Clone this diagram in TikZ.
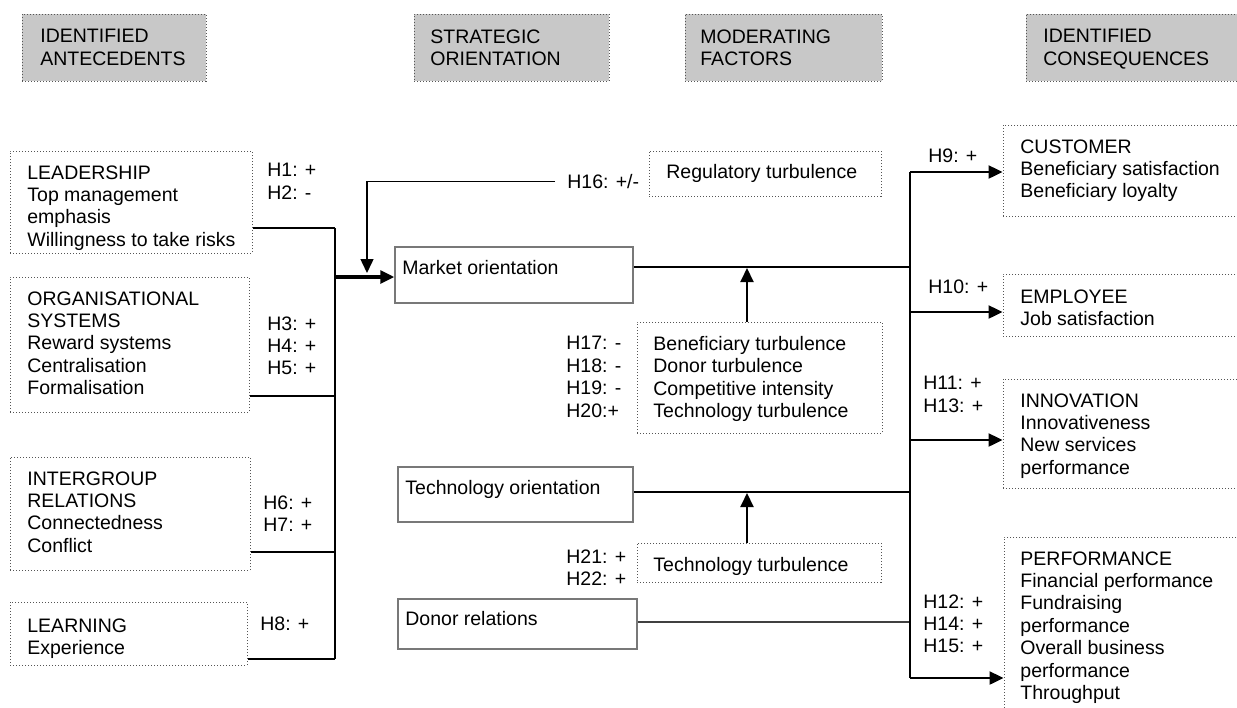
\documentclass[tikz,border=0pt]{standalone}
\usepackage{fontspec}
\setmainfont{Liberation Sans}
\usetikzlibrary{positioning,fit,arrows.meta}
\definecolor{hdgray}{RGB}{200,200,200}
\definecolor{dotgray}{RGB}{85,85,85}
\definecolor{boxgray}{RGB}{120,120,120}

\begin{document}
\begin{tikzpicture}[x=0.5pt, y=-0.5pt,
	every node/.style={font=\fontsize{9.75}{11.2}\selectfont},
	txt/.style={anchor=north west, inner sep=0pt, align=left},
	dotbox/.style={draw=dotgray, densely dotted, line width=0.5pt, inner sep=0pt},
	hdbox/.style={dotbox, fill=hdgray},
	solidbox/.style={draw=boxgray, line width=0.75pt, inner sep=0pt},
	link/.style={line width=1.2pt},
	thinlink/.style={line width=0.75pt},
	arr/.style={-{Triangle[length=7pt, width=6.5pt]}}]
	\useasboundingbox (0,0) rectangle (1237,707);

	% column headers
	\node[hdbox, fit={(22,14) (206,81)}](hdAnte) {};
	\node[hdbox, fit={(414,14) (609,81)}](hdStrat) {};
	\node[hdbox, fit={(685,14) (882,81)}](hdMod) {};
	\node[hdbox, fit={(1026,14) (1250,81)}](hdCons) {};
	\node[txt](hdAnteT) at (40,29) {IDENTIFIED\\ANTECEDENTS};
	\node[txt](hdStratT) at (430,29) {STRATEGIC\\ORIENTATION};
	\node[txt](hdModT) at (700,29) {MODERATING\\FACTORS};
	\node[txt](hdConsT) at (1043,29) {IDENTIFIED\\CONSEQUENCES};

	% antecedents
	\node[dotbox, fit={(10,151) (252,253)}](lead) {};
	\node[dotbox, fit={(10,277) (249,412)}](orgsys) {};
	\node[dotbox, fit={(10,457) (250,570)}](intgrp) {};
	\node[dotbox, fit={(10,602) (247,665)}](learn) {};
	\node[txt](leadT) at (27,165) {LEADERSHIP\\Top management\\emphasis\\Willingness to take risks};
	\node[txt](orgsysT) at (27,291) {ORGANISATIONAL\\SYSTEMS\\Reward systems\\Centralisation\\Formalisation};
	\node[txt](intgrpT) at (27,471) {INTERGROUP\\RELATIONS\\Connectedness\\Conflict};
	\node[txt](learnT) at (27,618) {LEARNING\\Experience};
	\node[txt](h1) at (267,163) {H1: +\\H2: -};
	\node[txt](h3) at (267,316) {H3: +\\H4: +\\H5: +};
	\node[txt](h6) at (263,495) {H6: +\\H7: +};
	\node[txt](h8) at (260,616) {H8: +};

	% strategic orientation
	\node[solidbox, fit={(395,247) (633,303)}](mkt) {};
	\node[solidbox, fit={(398,467) (633,522)}](tech) {};
	\node[solidbox, fit={(398,599) (637,649)}](donor) {};
	\node[txt](mktT) at (402,260) {Market orientation};
	\node[txt](techT) at (405,480) {Technology orientation};
	\node[txt](donorT) at (405,611) {Donor relations};

	% moderating factors
	\node[dotbox, fit={(649,151) (881,196)}](reg) {};
	\node[dotbox, fit={(637,322) (882,433)}](benef) {};
	\node[dotbox, fit={(637,543) (881,582)}](techturb) {};
	\node[txt](regT) at (666,164) {Regulatory turbulence};
	\node[txt](benefT) at (653,336) {Beneficiary turbulence\\Donor turbulence\\Competitive intensity\\Technology turbulence};
	\node[txt](techturbT) at (653,557) {Technology turbulence};
	\node[txt](h16) at (567,174) {H16: +/-};
	\node[txt](h17) at (566,336) {H17: -\\H18: -\\H19: -\\H20:+};
	\node[txt](h21) at (566,549) {H21: +\\H22: +};

	% consequences
	\node[dotbox, fit={(1003,125) (1250,216)}](cust) {};
	\node[dotbox, fit={(1003,274) (1250,336)}](empl) {};
	\node[dotbox, fit={(1003,379) (1250,488)}](innov) {};
	\node[dotbox, fit={(1004,537) (1250,730)}](perf) {};
	\node[txt](custT) at (1020,139) {CUSTOMER\\Beneficiary satisfaction\\Beneficiary loyalty};
	\node[txt](emplT) at (1020,289) {EMPLOYEE\\Job satisfaction};
	\node[txt](innovT) at (1020,393) {INNOVATION\\Innovativeness\\New services\\performance};
	\node[txt](perfT) at (1020,551) {PERFORMANCE\\Financial performance\\Fundraising\\performance\\Overall business\\performance\\Throughput};
	\node[txt](h9) at (928,148) {H9: +};
	\node[txt](h10) at (928,279) {H10: +};
	\node[txt](h11) at (923,376) {H11: +\\H13: +};
	\node[txt](h12) at (923,594) {H12: +\\H14: +\\H15: +};

	% left bus
	\coordinate (busTop) at (335,228);
	\coordinate (jOrg) at (335,396);
	\coordinate (jInt) at (335,552);
	\coordinate (jLearn) at (335,659);
	\coordinate (jMkt) at (335,277);
	\draw[link] (lead.east |- busTop) -- (busTop);
	\draw[link] (orgsys.east |- jOrg) -- (jOrg);
	\draw[link] (intgrp.east |- jInt) -- (jInt);
	\draw[link] (learn.east |- jLearn) -- (jLearn);
	\draw[link, line width=1.4pt] (busTop) -- (jLearn);
	\draw[link, line width=1.6pt, arr] (jMkt) -- (mkt.west |- jMkt);
	\coordinate (h16tip) at (367,273);
	\draw[thinlink, arr] ([xshift=-6pt]h16.west) -| (h16tip);

	% right bus
	\coordinate (rMkt) at (910,267);
	\coordinate (rTech) at (910,492);
	\coordinate (rDon) at (910,622);
	\coordinate (busR1) at (910,172);
	\coordinate (busR2) at (910,312);
	\coordinate (busR3) at (910,440);
	\coordinate (busR4) at (910,678);
	\draw[link] (mkt.east |- rMkt) -- (rMkt);
	\draw[link] (tech.east |- rTech) -- (rTech);
	\draw[thinlink, black!75] (donor.east |- rDon) -- (rDon);
	\draw[link] (busR1) -- (busR4);
	\draw[link, arr] (busR1) -- (cust.west |- busR1);
	\draw[link, arr] (busR2) -- (empl.west |- busR2);
	\draw[link, arr] (busR3) -- (innov.west |- busR3);
	\draw[link, arr] (busR4) -- (perf.west |- busR4);

	% moderator arrows
	\coordinate (modMkt) at (747,268);
	\coordinate (modTech) at (747,493);
	\draw[link, line width=1pt, arr] (benef.north -| modMkt) -- (modMkt);
	\draw[link, line width=1pt, arr] (techturb.north -| modTech) -- (modTech);
\end{tikzpicture}
\end{document}
